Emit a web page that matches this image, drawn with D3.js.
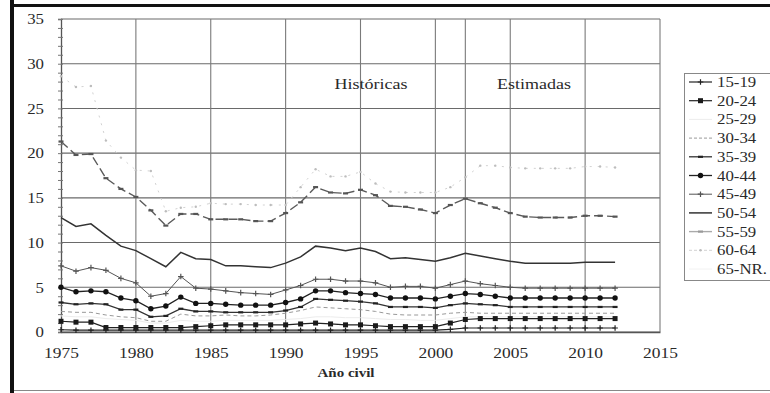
<!DOCTYPE html>
<html>
<head>
<meta charset="utf-8">
<script src="https://cdn.jsdelivr.net/npm/d3@7"></script>
<style>
  html, body { margin: 0; padding: 0; background: #fff; }
  svg { display: block; }
  text { font-family: "Liberation Serif", "Times New Roman", serif; fill: #2a2a2a; }
</style>
</head>
<body>
<svg id="chart" width="770" height="393"></svg>
<script>
// Years of the series (historical up to 2001, estimated from 2002)
const years = d3.range(1975, 2013);
const xTicks = [1975, 1980, 1985, 1990, 1995, 2000, 2005, 2010, 2015];
const xGrid = [1980, 1985, 1990, 1995, 2000, 2002, 2005, 2010, 2015];
const yTicks = [0, 5, 10, 15, 20, 25, 30, 35];
const ageGroups = ["15-19", "20-24", "25-29", "30-34", "35-39", "40-44", "45-49", "50-54", "55-59", "60-64", "65-NR."];

const s15_19 = [0.25,0.2,0.2,0.2,0.2,0.2,0.2,0.2,0.2,0.2,0.2,0.2,0.2,0.2,0.2,0.2,0.2,0.2,0.2,0.2,0.2,0.2,0.2,0.2,0.2,0.2,0.3,0.45,0.45,0.45,0.45,0.45,0.45,0.45,0.45,0.45,0.45,0.45];
const s20_24 = [1.2,1.1,1.1,0.5,0.5,0.5,0.5,0.5,0.5,0.6,0.7,0.8,0.8,0.8,0.8,0.8,0.9,1.0,0.9,0.8,0.8,0.7,0.6,0.6,0.6,0.6,1.0,1.4,1.5,1.5,1.5,1.5,1.5,1.5,1.5,1.5,1.5,1.5];
const s25_29 = [1.8,1.7,1.7,1.5,1.4,1.3,1.0,1.0,1.3,1.2,1.2,1.3,1.3,1.3,1.3,1.4,1.5,1.7,1.7,1.6,1.6,1.5,1.4,1.4,1.3,1.3,1.5,1.7,1.7,1.7,1.7,1.7,1.7,1.7,1.7,1.7,1.7,1.7];
const s30_34 = [2.3,2.2,2.2,1.9,1.7,1.6,1.2,1.2,2.0,1.8,1.8,1.9,1.8,1.8,1.9,2.1,2.4,2.8,2.7,2.6,2.5,2.3,2.0,1.9,1.9,1.9,2.1,2.2,2.1,2.1,2.1,2.1,2.1,2.1,2.1,2.1,2.1,2.1];
const s35_39 = [3.3,3.1,3.2,3.1,2.5,2.5,1.7,1.8,2.6,2.3,2.3,2.2,2.2,2.2,2.2,2.4,2.8,3.7,3.6,3.5,3.4,3.2,2.8,2.8,2.8,2.7,3.0,3.2,3.1,3.0,2.8,2.8,2.8,2.8,2.8,2.8,2.8,2.8];
const s40_44 = [5.0,4.5,4.6,4.5,3.8,3.5,2.6,2.9,3.9,3.2,3.2,3.1,3.0,3.0,3.0,3.3,3.7,4.6,4.6,4.4,4.3,4.2,3.8,3.8,3.8,3.7,4.0,4.3,4.2,4.0,3.8,3.8,3.8,3.8,3.8,3.8,3.8,3.8];
const s45_49 = [7.4,6.8,7.2,6.9,6.0,5.5,4.0,4.3,6.2,4.9,4.8,4.6,4.4,4.3,4.2,4.7,5.2,5.9,5.9,5.7,5.7,5.5,5.0,5.1,5.1,4.9,5.3,5.7,5.4,5.2,5.0,4.9,4.9,4.9,4.9,4.9,4.9,4.9];
const s50_54 = [12.8,11.8,12.1,10.8,9.6,9.1,8.2,7.3,8.9,8.2,8.1,7.4,7.4,7.3,7.2,7.7,8.4,9.6,9.4,9.1,9.4,9.0,8.2,8.3,8.1,7.9,8.3,8.8,8.5,8.2,7.9,7.7,7.7,7.7,7.7,7.8,7.8,7.8];
const s55_59 = [21.3,19.8,19.9,17.2,16.0,15.1,13.6,11.9,13.2,13.2,12.6,12.6,12.6,12.4,12.4,13.3,14.5,16.2,15.6,15.5,15.9,15.3,14.1,14.0,13.7,13.3,14.2,14.9,14.4,13.9,13.3,12.9,12.8,12.8,12.8,13.0,13.0,12.9];
const s60_64 = [28.6,27.4,27.5,21.4,19.5,18.1,18.0,13.5,13.9,14.0,14.4,14.3,14.3,14.2,14.2,14.2,16.2,18.2,17.4,17.4,17.9,16.6,15.7,15.6,15.6,15.6,16.2,17.3,18.6,18.6,18.4,18.3,18.3,18.3,18.3,18.5,18.5,18.4];
const s65_nr = [];

// Drawing style per age group
const styles = [
  { values: s15_19, stroke: "#222", width: 1.2, dash: null, marker: "plus", mcolor: "#222" },
  { values: s20_24, stroke: "#222", width: 1.2, dash: null, marker: "square", mcolor: "#1a1a1a" },
  { values: s25_29, stroke: "#ececec", width: 1, dash: null, marker: null, mcolor: "#ececec" },
  { values: s30_34, stroke: "#999", width: 1, dash: "4,3", marker: null, mcolor: "#999" },
  { values: s35_39, stroke: "#333", width: 1.3, dash: null, marker: "dash", mcolor: "#222" },
  { values: s40_44, stroke: "#222", width: 1.3, dash: null, marker: "circle", mcolor: "#111" },
  { values: s45_49, stroke: "#555", width: 1, dash: null, marker: "plus", mcolor: "#555" },
  { values: s50_54, stroke: "#333", width: 1.5, dash: null, marker: null, mcolor: "#333" },
  { values: s55_59, stroke: "#5a5a5a", width: 1.4, dash: "9,4", marker: "dash", mcolor: "#555" },
  { values: s60_64, stroke: "#d2d2d2", width: 1, dash: "2,6", marker: "dot", mcolor: "#bdbdbd" },
  { values: s65_nr, stroke: "#f2f2f2", width: 1, dash: null, marker: null, mcolor: "#f2f2f2" }
];

const svg = d3.select("#chart");

// Page frame: heavy dark edge at left and top, thin rule at the bottom
svg.append("rect").attr("x", 10).attr("y", 0).attr("width", 4).attr("height", 393).attr("fill", "#111");
svg.append("rect").attr("x", 10).attr("y", 4).attr("width", 760).attr("height", 3).attr("fill", "#111");
svg.append("line").attr("x1", 14).attr("x2", 770).attr("y1", 390.5).attr("y2", 390.5).attr("stroke", "#888").attr("stroke-width", 1.2);

const x = d3.scaleLinear().domain([1975, 2015]).range([61, 660]);
const y = d3.scaleLinear().domain([0, 35]).range([332, 19]);
const SX = 1.2; // horizontal stretch of the typeface

// Horizontal gridlines
svg.append("g").selectAll("line").data(yTicks).join("line")
  .attr("x1", x(1975)).attr("x2", x(2015))
  .attr("y1", d => y(d)).attr("y2", d => y(d))
  .attr("stroke", "#6a6a6a").attr("stroke-width", 1.1);

// Vertical gridlines (incl. 2002, start of the estimated period)
svg.append("g").selectAll("line").data(xGrid).join("line")
  .attr("x1", d => x(d)).attr("x2", d => x(d))
  .attr("y1", y(35)).attr("y2", y(0))
  .attr("stroke", "#7a7a7a").attr("stroke-width", 1.1);

// Y axis with minor ticks
const yMinor = svg.append("g").attr("transform", `translate(${x(1975)},0)`)
  .call(d3.axisLeft(y).tickValues(d3.range(0, 36, 1)).tickSize(3).tickFormat(""));
yMinor.select(".domain").attr("stroke", "#555").attr("stroke-width", 1.3);
yMinor.selectAll(".tick line").attr("stroke", "#777").attr("x2", -3).attr("x1", 2);

const yAxis = svg.append("g").attr("transform", `translate(${x(1975)},0)`)
  .call(d3.axisLeft(y).tickValues(yTicks).tickSize(0).tickPadding(0));
yAxis.select(".domain").remove();
yAxis.selectAll(".tick text")
  .attr("x", 0).attr("dy", "0.34em")
  .attr("transform", `translate(-17,0) scale(${SX},1)`)
  .style("font-family", "'Liberation Serif', serif").style("font-size", "14px").attr("fill", "#2a2a2a");

// X axis
const xAxis = svg.append("g").attr("transform", `translate(0,${y(0)})`)
  .call(d3.axisBottom(x).tickValues(xTicks).tickSize(0).tickPadding(16).tickFormat(d3.format("d")));
xAxis.select(".domain").attr("stroke", "#555").attr("stroke-width", 1.3);
xAxis.selectAll(".tick text")
  .attr("transform", `scale(${SX},1)`)
  .style("font-family", "'Liberation Serif', serif").style("font-size", "14.5px").attr("fill", "#2a2a2a");

// Axis title and period labels
svg.append("text").attr("transform", `translate(346,377) scale(${SX},1)`)
  .attr("text-anchor", "middle").style("font-size", "12.5px").style("font-weight", "bold").text("Año civil");
svg.append("text").attr("transform", `translate(371,89) scale(${SX},1)`)
  .attr("text-anchor", "middle").style("font-size", "15px").text("Históricas");
svg.append("text").attr("transform", `translate(534,89) scale(${SX},1)`)
  .attr("text-anchor", "middle").style("font-size", "15px").text("Estimadas");

// Marker drawing helper
function drawMarker(g, kind, color) {
  if (kind === "plus") {
    g.append("path").attr("d", "M-2.8,0H2.8M0,-2.8V2.8").attr("stroke", color).attr("stroke-width", 1.2);
  } else if (kind === "square") {
    g.append("rect").attr("x", -2.5).attr("y", -2.5).attr("width", 5).attr("height", 5).attr("fill", color);
  } else if (kind === "circle") {
    g.append("circle").attr("r", 2.7).attr("fill", color);
  } else if (kind === "dash") {
    g.append("rect").attr("x", -2.5).attr("y", -1.1).attr("width", 5).attr("height", 2.2).attr("fill", color);
  } else if (kind === "dot") {
    g.append("circle").attr("r", 1.2).attr("fill", color);
  }
}

const line = d3.line().defined(d => d[1] != null).x(d => x(d[0])).y(d => y(d[1]));

// Series, drawn from the top group down so the dark lines sit on top
const plot = svg.append("g");
styles.map((s, i) => ({ s, i })).reverse().forEach(({ s, i }) => {
  const pts = s.values.map((v, k) => [years[k], v]);
  if (!pts.length) return;
  plot.append("path").datum(pts)
    .attr("d", line).attr("fill", "none")
    .attr("stroke", s.stroke).attr("stroke-width", s.width)
    .attr("stroke-dasharray", s.dash);
  if (s.marker) {
    plot.append("g").selectAll("g").data(pts).join("g")
      .attr("transform", d => `translate(${x(d[0])},${y(d[1])})`)
      .each(function () { drawMarker(d3.select(this), s.marker, s.mcolor); });
  }
});

// Legend
const legend = svg.append("g");
legend.append("rect").attr("x", 684.5).attr("y", 73.5).attr("width", 100).attr("height", 207)
  .attr("fill", "#fff").attr("stroke", "#888").attr("stroke-width", 1);
ageGroups.forEach((name, i) => {
  const s = styles[i];
  const cy = 82 + i * 18.7;
  legend.append("line").attr("x1", 689).attr("x2", 712).attr("y1", cy).attr("y2", cy)
    .attr("stroke", i === 8 ? "#aaa" : s.stroke).attr("stroke-width", s.width)
    .attr("stroke-dasharray", s.dash && i !== 8 ? "3,2" : null);
  if (s.marker) drawMarker(legend.append("g").attr("transform", `translate(700.5,${cy})`), s.marker, i === 8 ? "#999" : s.mcolor);
  legend.append("text").attr("transform", `translate(717,${cy + 5}) scale(${SX},1)`)
    .style("font-size", "14px").attr("fill", "#2a2a2a").text(name);
});
</script>
</body>
</html>
